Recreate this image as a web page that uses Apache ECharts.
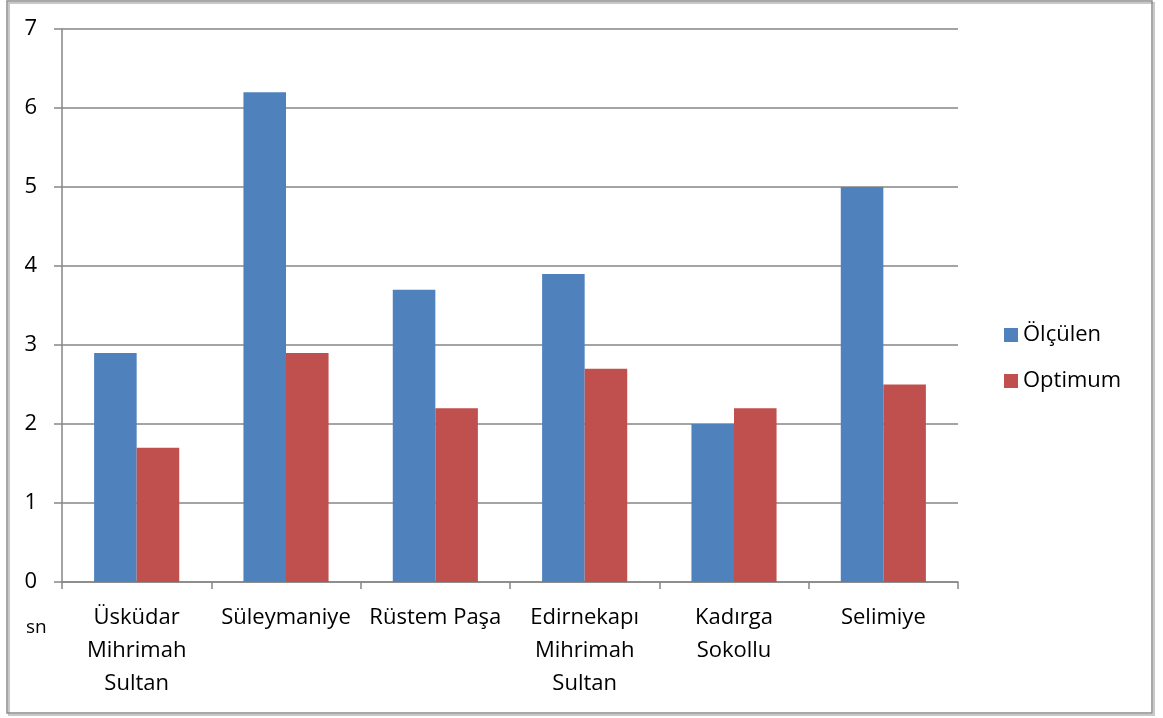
<!DOCTYPE html>
<html><head><meta charset="utf-8">
<script src="https://cdn.jsdelivr.net/npm/echarts@6/dist/echarts.min.js"></script>
<style>html,body{margin:0;padding:0;background:#fff}#c{width:1163px;height:718px}</style>
</head><body><div id="c"></div>
<script>
const categories = ["Üsküdar\nMihrimah\nSultan", "Süleymaniye", "Rüstem Paşa", "Edirnekapı\nMihrimah\nSultan", "Kadırga\nSokollu", "Selimiye"];
const olculen = [2.9, 6.2, 3.7, 3.9, 2.0, 5.0];
const optimum = [1.7, 2.9, 2.2, 2.7, 2.2, 2.5];
const yTicks = [0, 1, 2, 3, 4, 5, 6, 7];
const FONT = 'Open Sans';
const chart = echarts.init(document.getElementById('c'), null, {renderer: 'canvas'});
chart.setOption({
  animation: false,
  textStyle: {fontFamily: FONT},
  graphic: [
    {type: 'rect', shape: {x: 9, y: 3, width: 1145, height: 712}, style: {fill: 'none', stroke: '#c8c8c8', lineWidth: 2}, z: -2},
    {type: 'rect', shape: {x: 7, y: 1, width: 1145, height: 712}, style: {fill: 'none', stroke: '#8c8c8c', lineWidth: 1.5}, z: -1},
    {type: 'text', left: 26, top: 618, style: {text: 'sn', fontSize: 19, fontFamily: FONT, fill: '#000'}}
  ],
  grid: {left: 62, right: 205, top: 29, bottom: 136, containLabel: false},
  legend: {
    orient: 'vertical', left: 999, top: 319, itemWidth: 14, itemHeight: 14, itemGap: 24,
    icon: 'rect', textStyle: {fontSize: 22, fontFamily: FONT, color: '#000', padding: [0, 0, 0, 0]},
    data: ['Ölçülen', 'Optimum']
  },
  xAxis: {
    type: 'category', data: categories,
    axisLine: {lineStyle: {color: '#868686', width: 1.5}},
    axisTick: {show: true, alignWithLabel: false, length: 7, lineStyle: {color: '#868686', width: 1.5}},
    axisLabel: {interval: 0, fontSize: 22, color: '#000', lineHeight: 33, margin: 19, fontFamily: FONT}
  },
  yAxis: {
    type: 'value', min: yTicks[0], max: yTicks[yTicks.length - 1], interval: 1,
    axisLine: {show: true, lineStyle: {color: '#868686', width: 1.5}},
    axisTick: {show: true, length: 8, lineStyle: {color: '#868686', width: 1.5}},
    splitLine: {lineStyle: {color: '#868686', width: 1.5}},
    axisLabel: {fontSize: 22, color: '#000', margin: 25, fontFamily: FONT}
  },
  series: [
    {name: 'Ölçülen', type: 'bar', data: olculen, barGap: '0%', barCategoryGap: '43%', itemStyle: {color: '#4F81BD'}},
    {name: 'Optimum', type: 'bar', data: optimum, barGap: '0%', barCategoryGap: '43%', itemStyle: {color: '#C0504D'}}
  ]
});
</script></body></html>
